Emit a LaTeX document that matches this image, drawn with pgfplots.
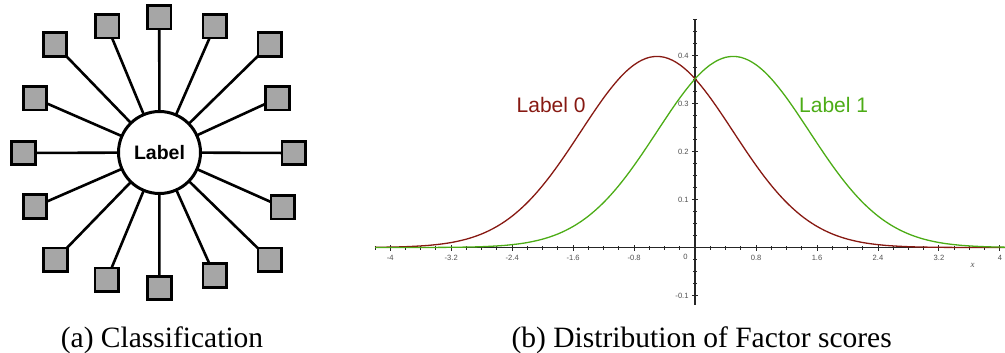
\documentclass[border=0pt]{standalone}
\usepackage{fontspec}
\setmainfont{Liberation Serif}
\newfontfamily\hv{Liberation Sans}
\usepackage{pgfplots}
\pgfplotsset{compat=1.18}
\usepackage{pgfplotstable}

\definecolor{lblred}{RGB}{135,25,18}
\definecolor{lblgreen}{RGB}{76,172,22}
\definecolor{boxgray}{RGB}{166,166,166}
\definecolor{tickgray}{RGB}{80,80,80}

% Square nodes around the central class node (x, y in layout units, y downwards)
\pgfplotstableread{
x y
159.2 17.3
214.7 26.3
269.7 44.5
277.5 98.3
293.7 153.0
282.7 207.2
269.7 259.7
214.7 275.5
159.3 288.0
106.7 279.7
55.5 259.7
35.0 206.7
23.3 153.0
35.0 98.3
55.0 44.5
107.2 26.3
}\leaves

% Spokes: out from the centre to each square and back again
\pgfplotstableread{
x y
159.5 152.5
159.2 17.3
159.5 152.5
214.7 26.3
159.5 152.5
269.7 44.5
159.5 152.5
277.5 98.3
159.5 152.5
293.7 153.0
159.5 152.5
282.7 207.2
159.5 152.5
269.7 259.7
159.5 152.5
214.7 275.5
159.5 152.5
159.3 288.0
159.5 152.5
106.7 279.7
159.5 152.5
55.5 259.7
159.5 152.5
35.0 206.7
159.5 152.5
23.3 153.0
159.5 152.5
35.0 98.3
159.5 152.5
55.0 44.5
159.5 152.5
107.2 26.3
159.5 152.5
}\spokes

% Densities of the factor scores for both labels
\pgfplotstableread{
x y0 y1
-4.2 0.0004 0.0000
-4.1 0.0006 0.0000
-4.0 0.0009 0.0000
-3.9 0.0012 0.0000
-3.8 0.0017 0.0000
-3.7 0.0024 0.0001
-3.6 0.0033 0.0001
-3.5 0.0044 0.0001
-3.4 0.0060 0.0002
-3.3 0.0079 0.0003
-3.2 0.0104 0.0004
-3.1 0.0136 0.0006
-3.0 0.0175 0.0009
-2.9 0.0224 0.0012
-2.8 0.0283 0.0017
-2.7 0.0355 0.0024
-2.6 0.0440 0.0033
-2.5 0.0540 0.0044
-2.4 0.0656 0.0060
-2.3 0.0790 0.0079
-2.2 0.0940 0.0104
-2.1 0.1109 0.0136
-2.0 0.1295 0.0175
-1.9 0.1497 0.0224
-1.8 0.1714 0.0283
-1.7 0.1942 0.0355
-1.6 0.2179 0.0440
-1.5 0.2420 0.0540
-1.4 0.2661 0.0656
-1.3 0.2897 0.0790
-1.2 0.3123 0.0940
-1.1 0.3332 0.1109
-1.0 0.3521 0.1295
-0.9 0.3683 0.1497
-0.8 0.3814 0.1714
-0.7 0.3910 0.1942
-0.6 0.3970 0.2179
-0.5 0.3989 0.2420
-0.4 0.3970 0.2661
-0.3 0.3910 0.2897
-0.2 0.3814 0.3123
-0.1 0.3683 0.3332
0.0 0.3521 0.3521
0.1 0.3332 0.3683
0.2 0.3123 0.3814
0.3 0.2897 0.3910
0.4 0.2661 0.3970
0.5 0.2420 0.3989
0.6 0.2179 0.3970
0.7 0.1942 0.3910
0.8 0.1714 0.3814
0.9 0.1497 0.3683
1.0 0.1295 0.3521
1.1 0.1109 0.3332
1.2 0.0940 0.3123
1.3 0.0790 0.2897
1.4 0.0656 0.2661
1.5 0.0540 0.2420
1.6 0.0440 0.2179
1.7 0.0355 0.1942
1.8 0.0283 0.1714
1.9 0.0224 0.1497
2.0 0.0175 0.1295
2.1 0.0136 0.1109
2.2 0.0104 0.0940
2.3 0.0079 0.0790
2.4 0.0060 0.0656
2.5 0.0044 0.0540
2.6 0.0033 0.0440
2.7 0.0024 0.0355
2.8 0.0017 0.0283
2.9 0.0012 0.0224
3.0 0.0009 0.0175
3.1 0.0006 0.0136
3.2 0.0004 0.0104
3.3 0.0003 0.0079
3.4 0.0002 0.0060
3.5 0.0001 0.0044
3.6 0.0001 0.0033
3.7 0.0001 0.0024
3.8 0.0000 0.0017
3.9 0.0000 0.0012
4.0 0.0000 0.0009
4.1 0.0000 0.0006
}\density

\begin{document}
\begin{tikzpicture}
\useasboundingbox (0,0) rectangle (1005pt,353pt);

% (a) star layout of the classifier
\begin{axis}[
  at={(0pt,0pt)}, anchor=south west,
  scale only axis, width=320pt, height=353pt,
  xmin=0, xmax=320, ymin=0, ymax=353, y dir=reverse,
  hide axis, clip=false,
]
\addplot[black, line width=2.6pt, line join=round, no markers] table[x=x, y=y] {\spokes};
\addplot[only marks, mark=square*, mark size=11.8pt,
  mark options={fill=boxgray, draw=black, line width=2.8pt}] table[x=x, y=y] {\leaves};
\addplot[only marks, mark=*, mark size=41pt,
  mark options={fill=white, draw=black, line width=3pt},
  nodes near coords={\hv\bfseries\fontsize{19.5}{20}\selectfont Label},
  every node near coord/.append style={anchor=center}]
  coordinates {(159.5,152.5)};
\end{axis}

% (b) factor score densities
\begin{axis}[
  at={(375pt,48pt)}, anchor=south west,
  scale only axis, width=628pt, height=286pt,
  xmin=-4.2, xmax=4.04, ymin=-0.12, ymax=0.477,
  axis lines=middle,
  axis line style={-, black!85, line width=1.3pt},
  xtick={-4.8,-4,-3.2,-2.4,-1.6,-0.8,0,0.8,1.6,2.4,3.2,4,4.8},
  ytick={-0.2,-0.1,0,0.1,0.2,0.3,0.4,0.5},
  minor x tick num=3, minor y tick num=3,
  tick align=center,
  major tick length=6pt, minor tick length=4pt,
  every tick/.style={black!85, line width=1pt},
  tick label style={font=\hv\fontsize{7.6}{8}\selectfont, text=tickgray},
  /pgf/number format/assume math mode=true,
  /pgf/number format/fixed,
  /pgf/number format/precision=1,
  xticklabel style={yshift=-1pt},
  yticklabel style={xshift=0pt},
  clip=false,
]
\addplot[lblred, line width=1.3pt, smooth] table[x=x, y=y0] {\density};
\addplot[lblgreen, line width=1.3pt, smooth] table[x=x, y=y1] {\density};
\node[anchor=base, text=lblred, font=\hv\fontsize{21}{22}\selectfont]
  at (axis cs:-1.889,0.281) {Label 0};
\node[anchor=base, text=lblgreen, font=\hv\fontsize{21}{22}\selectfont]
  at (axis cs:1.818,0.281) {Label 1};
\node[text=tickgray, font=\hv\fontsize{7.6}{8}\selectfont]
  at (axis cs:-0.125,-0.02) {0};
\node[font=\itshape\fontsize{9}{10}\selectfont, text=tickgray]
  at (axis cs:3.64,-0.037) {x};
\end{axis}

% Sub-figure captions
\node[anchor=base, font=\fontsize{29.5}{30}\selectfont] at (162pt,5.7pt) {(a) Classification};
\node[anchor=base, font=\fontsize{29.5}{30}\selectfont] at (701.7pt,5.7pt) {(b) Distribution of Factor scores};
\end{tikzpicture}
\end{document}
